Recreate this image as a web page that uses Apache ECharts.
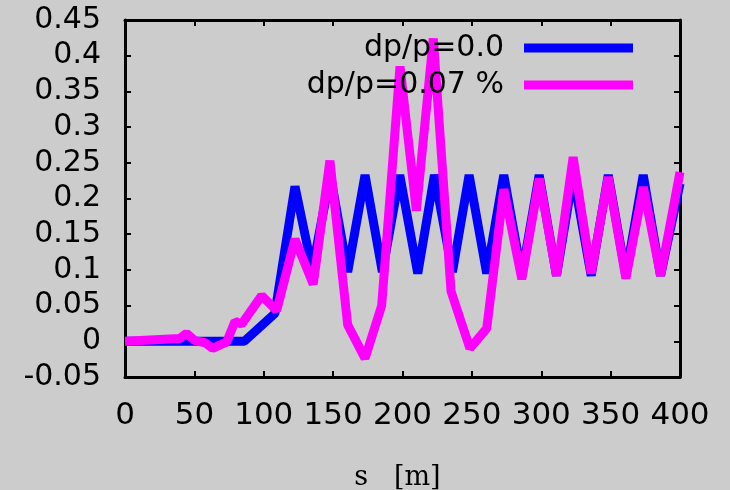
<!DOCTYPE html>
<html>
<head>
<meta charset="utf-8">
<script src="https://cdn.jsdelivr.net/npm/echarts@6/dist/echarts.min.js"></script>
<style>
html,body{margin:0;padding:0;background:#cccccc;}
#main{width:730px;height:490px;}
</style>
</head>
<body>
<div id="main"></div>
<script>
// Series names
var seriesNames = ['dp/p=0.0', 'dp/p=0.07 %'];
// dp/p = 0.0
var sBlue = [0, 86, 108, 122.5, 135, 148, 160.5, 173, 185.5, 198, 211, 223, 236, 248, 260.7, 273, 286, 298.5, 311, 323, 336, 348.3, 361, 373.5, 386, 400];
var vBlue = [0, 0, 0.039, 0.217, 0.1, 0.233, 0.097, 0.233, 0.097, 0.233, 0.095, 0.233, 0.097, 0.233, 0.095, 0.233, 0.092, 0.233, 0.092, 0.233, 0.092, 0.233, 0.092, 0.233, 0.092, 0.221];
// dp/p = 0.07 %
var sPink = [0, 39.6, 44.4, 50.4, 57.7, 63.2, 68.5, 73.3, 79.3, 84.1, 98.5, 109.3, 122.5, 135.7, 147.7, 160.5, 173, 185, 198.2, 210, 222.2, 235, 248.6, 260.7, 273, 286, 298.6, 311, 323, 336, 348.3, 361, 373.6, 386, 400];
var vPink = [0, 0.004, 0.011, 0.001, -0.002, -0.010, -0.005, -0.001, 0.028, 0.024, 0.064, 0.043, 0.143, 0.08, 0.253, 0.023, -0.024, 0.05, 0.385, 0.183, 0.424, 0.07, -0.010, 0.018, 0.213, 0.087, 0.228, 0.092, 0.258, 0.095, 0.23, 0.088, 0.216, 0.092, 0.237];
// Axis settings
var xMin = 0, xMax = 400, xStep = 50;
var yMin = -0.05, yMax = 0.45, yStep = 0.05;
var xName = 's   [m]';

function zip(a, b) { return a.map(function (v, i) { return [v, b[i]]; }); }

var chart = echarts.init(document.getElementById('main'), null, {renderer: 'canvas'});
var frame = {show: true, onZero: false, lineStyle: {color: '#000', width: 3}};
var tickIn = {show: true, inside: true, length: 6, lineStyle: {color: '#000', width: 2}};
chart.setOption({
  backgroundColor: '#cccccc',
  animation: false,
  grid: {left: 125, right: 50, top: 20, bottom: 113, containLabel: false, outerBoundsMode: 'none'},
  legend: {
    data: seriesNames,
    orient: 'vertical',
    align: 'right',
    right: 92,
    top: 28,
    itemWidth: 109,
    itemHeight: 9,
    itemGap: 7,
    icon: 'rect',
    textStyle: {fontFamily: 'DejaVu Sans', fontSize: 30, color: '#000', padding: [0, 15, 0, 0]}
  },
  xAxis: [{
    type: 'value', min: xMin, max: xMax, interval: xStep, position: 'bottom',
    name: xName, nameLocation: 'middle', nameGap: 87,
    nameTextStyle: {fontFamily: 'DejaVu Serif', fontSize: 27, color: '#000', padding: [0, 10, 0, 0]},
    axisLine: frame, axisTick: tickIn, splitLine: {show: false},
    axisLabel: {fontFamily: 'DejaVu Sans', fontSize: 31, color: '#000', margin: 23}
  }, {
    type: 'value', min: xMin, max: xMax, interval: xStep, position: 'top',
    axisLine: frame, axisTick: tickIn, splitLine: {show: false}, axisLabel: {show: false}
  }],
  yAxis: [{
    type: 'value', min: yMin, max: yMax, interval: yStep, position: 'left',
    axisLine: frame, axisTick: tickIn, splitLine: {show: false},
    axisLabel: {fontFamily: 'DejaVu Sans', fontSize: 30, color: '#000', margin: 24}
  }, {
    type: 'value', min: yMin, max: yMax, interval: yStep, position: 'right',
    axisLine: frame, axisTick: tickIn, splitLine: {show: false}, axisLabel: {show: false}
  }],
  series: [{
    name: seriesNames[0], type: 'line', data: zip(sBlue, vBlue),
    showSymbol: false, symbol: 'none', z: 2,
    color: '#0000ff',
    lineStyle: {color: '#0000ff', width: 9, join: 'bevel'}
  }, {
    name: seriesNames[1], type: 'line', data: zip(sPink, vPink),
    showSymbol: false, symbol: 'none', z: 3,
    color: '#ff00ff',
    lineStyle: {color: '#ff00ff', width: 9, join: 'bevel'}
  }]
});
</script>
</body>
</html>
